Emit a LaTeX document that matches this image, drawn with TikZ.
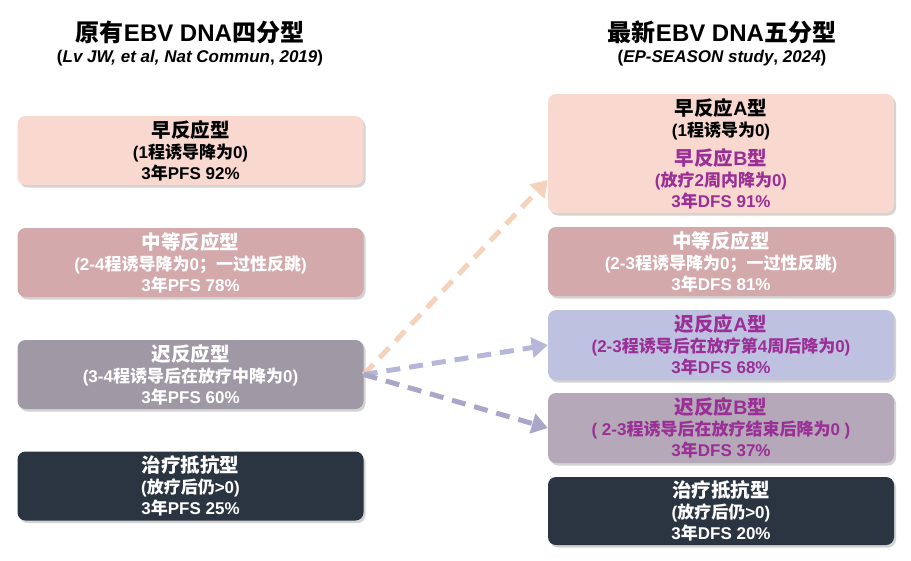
\documentclass[tikz,border=0pt]{standalone}
\usepackage{fontspec}
\setmainfont{Liberation Sans}
\newfontfamily\cjk{Noto Sans CJK SC}
\usepackage{tikz}
\usetikzlibrary{arrows.meta}
\usetikzlibrary{shadows}
\usetikzlibrary{positioning}
\newcommand{\zh}[1]{{\cjk #1}}
\newcommand{\hd}[1]{{\fontsize{19.5}{21}\selectfont #1}}

\definecolor{earlyfill}{HTML}{F8D8CF}
\definecolor{midfill}{HTML}{D3A9AC}
\definecolor{latefill}{HTML}{9E99A4}
\definecolor{resfill}{HTML}{2B3441}
\definecolor{lateAfill}{HTML}{BEC2E0}
\definecolor{lateBfill}{HTML}{B5A8B9}
\definecolor{purp}{HTML}{9A2F96}
\definecolor{peach}{HTML}{F6D2BA}
\definecolor{lav}{HTML}{B5B6D9}
\definecolor{lavdark}{HTML}{A9A6C8}

\begin{document}
\begin{tikzpicture}
	[
	x=1pt, y=-1pt,
	box/.style = {rounded corners=8pt, minimum width=346pt, align=center,
		font=\bfseries\fontsize{17}{21}\selectfont, inner sep=0pt,
		drop shadow={shadow xshift=2pt, shadow yshift=-2.5pt, opacity=0.35, fill=gray}},
	ttl/.style = {font=\bfseries\fontsize{24}{28}\selectfont},
	sub/.style = {font=\bfseries\fontsize{17}{20}\selectfont},
	arr/.style = {line width=5pt, dash pattern=on 14pt off 9pt, -{Triangle[length=16pt,width=20pt]}}
	]

	\useasboundingbox (0,0) rectangle (911,560);

	% titles
	\node[ttl] (t1) at (190,32) {\zh{原有}EBV DNA\zh{四分型}};
	\node[sub] (s1) at (190,58) {(\textit{Lv JW, et al, Nat Commun}, \textit{2019})};
	\node[ttl] (t2) at (722,32) {\zh{最新}EBV DNA\zh{五分型}};
	\node[sub] (s2) at (722,58) {(\textit{EP-SEASON study}, \textit{2024})};

	% old classification
	\node[box, fill=earlyfill, minimum height=69pt] (early) at (190.5,150.5)
		{\hd{\zh{早反应型}}\\(1\zh{程诱导降为}0)\\3\zh{年}PFS 92\%};
	\node[box, fill=midfill, text=white, minimum height=69pt] (mid) at (190.5,262.5)
		{\hd{\zh{中等反应型}}\\(2-4\zh{程诱导降为}0\zh{；一过性反跳})\\3\zh{年}PFS 78\%};
	\node[box, fill=latefill, text=white, minimum height=69pt] (late) at (190.5,374.5)
		{\hd{\zh{迟反应型}}\\(3-4\zh{程诱导后在放疗中降为}0)\\3\zh{年}PFS 60\%};
	\node[box, fill=resfill, text=white, minimum height=69pt] (res) at (190.5,486)
		{\hd{\zh{治疗抵抗型}}\\(\zh{放疗后仍}>0)\\3\zh{年}PFS 25\%};

	% new classification
	\node[box, fill=earlyfill, minimum height=119pt] (earlyAB) at (721,153.5)
		{\hd{\zh{早反应}A\zh{型}}\\(1\zh{程诱导为}0)\\[8pt]
		\color{purp}\hd{\zh{早反应}B\zh{型}}\\\color{purp}(\zh{放疗}2\zh{周内降为}0)\\\color{purp}3\zh{年}DFS 91\%};
	\node[box, fill=midfill, text=white, minimum height=69pt] (mid2) at (721,261.5)
		{\hd{\zh{中等反应型}}\\(2-3\zh{程诱导降为}0\zh{；一过性反跳})\\3\zh{年}DFS 81\%};
	\node[box, fill=lateAfill, text=purp, minimum height=70pt] (lateA) at (721,345)
		{\hd{\zh{迟反应}A\zh{型}}\\(2-3\zh{程诱导后在放疗第}4\zh{周后降为}0)\\3\zh{年}DFS 68\%};
	\node[box, fill=lateBfill, text=purp, minimum height=70pt] (lateB) at (721,428)
		{\hd{\zh{迟反应}B\zh{型}}\\( 2-3\zh{程诱导后在放疗结束后降为}0 )\\3\zh{年}DFS 37\%};
	\node[box, fill=resfill, text=white, minimum height=68pt] (res2) at (721,511)
		{\hd{\zh{治疗抵抗型}}\\(\zh{放疗后仍}>0)\\3\zh{年}DFS 20\%};

	% arrows
	\draw[arr, peach] (late.east) -- ([yshift=-26.5pt]earlyAB.west);
	\draw[arr, lav] (late.east) -- (lateA.west);
	\draw[arr, lavdark] (late.east) -- (lateB.west);

\end{tikzpicture}
\end{document}
